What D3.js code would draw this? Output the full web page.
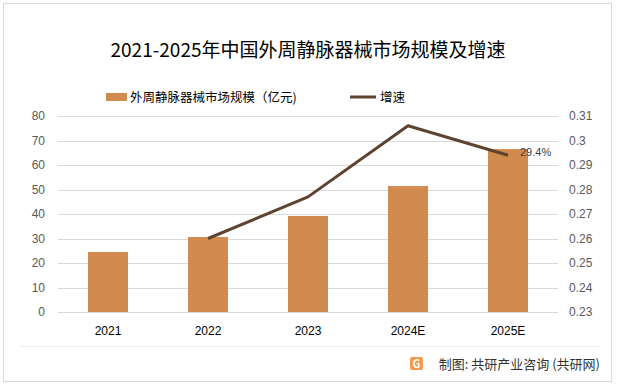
<html>
<style>
  body { margin: 0; background: #fff; }
  text { font-family: "Noto Sans CJK SC", "Noto Sans", sans-serif; }
</style>
<body>
<svg id="chart"></svg>
</body>
</html>
<script src="https://d3js.org/d3.v7.min.js"></script>
<script>
var years = ["2021", "2022", "2023", "2024E", "2025E"];
var marketSize = [24.5, 30.6, 39.2, 51.4, 66.5];
var growth = [null, 0.260, 0.277, 0.306, 0.294];
var leftTicks = [0, 10, 20, 30, 40, 50, 60, 70, 80];
var rightTicks = [0.23, 0.24, 0.25, 0.26, 0.27, 0.28, 0.29, 0.3, 0.31];

var W = 617, H = 387;
var svg = d3.select("#chart").attr("width", W).attr("height", H);

// outer frame
svg.append("rect").attr("x", 3.5).attr("y", 3.5).attr("width", 608).attr("height", 378)
  .attr("fill", "#fff").attr("stroke", "#d9d9d9");

var x = d3.scaleBand().domain(years).range([58, 558]).paddingInner(0.6).paddingOuter(0.3);
var yL = d3.scaleLinear().domain([0, 80]).range([312, 116]);
var yR = d3.scaleLinear().domain([0.23, 0.31]).range([312, 116]);

// grid
svg.append("g").selectAll("line").data(leftTicks).enter().append("line")
  .attr("x1", 58).attr("x2", 558)
  .attr("y1", function(d) { return Math.round(yL(d)) + 0.5; })
  .attr("y2", function(d) { return Math.round(yL(d)) + 0.5; })
  .attr("stroke", "#d9d9d9").attr("stroke-width", 1);

// left axis
var gl = svg.append("g").attr("transform", "translate(58,0)")
  .call(d3.axisLeft(yL).tickValues(leftTicks).tickSize(0).tickPadding(13));
gl.select(".domain").remove();
gl.selectAll("text").attr("fill", "#595959").style("font-size", "12px")
  .style("font-family", "'Liberation Sans', sans-serif");

// right axis
var gr = svg.append("g").attr("transform", "translate(558,0)")
  .call(d3.axisRight(yR).tickValues(rightTicks).tickSize(0).tickPadding(11)
    .tickFormat(function(d) { return String(+d.toFixed(2)); }));
gr.select(".domain").remove();
gr.selectAll("text").attr("fill", "#595959").style("font-size", "12px")
  .style("font-family", "'Liberation Sans', sans-serif");

// x labels
svg.append("g").selectAll("text").data(years).enter().append("text")
  .attr("x", function(d) { return x(d) + x.bandwidth() / 2; })
  .attr("y", 335).attr("text-anchor", "middle")
  .style("font-size", "12px").style("font-family", "'Liberation Sans', sans-serif")
  .attr("fill", "#000").text(function(d) { return d; });

// bars
svg.append("g").selectAll("rect").data(marketSize).enter().append("rect")
  .attr("x", function(d, i) { return x(years[i]); })
  .attr("y", function(d) { return yL(d); })
  .attr("width", x.bandwidth())
  .attr("height", function(d) { return yL(0) - yL(d); })
  .attr("fill", "#d18b4f");

// growth line
var pts = growth.map(function(g, i) { return { year: years[i], g: g }; })
  .filter(function(d) { return d.g !== null; });
var line = d3.line()
  .x(function(d) { return x(d.year) + x.bandwidth() / 2; })
  .y(function(d) { return yR(d.g); });
svg.append("path").datum(pts).attr("d", line)
  .attr("fill", "none").attr("stroke", "#5e4330").attr("stroke-width", 3)
  .attr("stroke-linejoin", "round");

var last = pts[pts.length - 1];
svg.append("text")
  .attr("x", x(last.year) + x.bandwidth() / 2 + 12).attr("y", yR(last.g) + 1)
  .style("font-size", "11px").style("font-family", "'Liberation Sans', sans-serif")
  .attr("fill", "#404040").text((last.g * 100).toFixed(1) + "%");

// title
svg.append("text").attr("x", 308).attr("y", 57).attr("text-anchor", "middle")
  .style("font-size", "19px").attr("fill", "#000")
  .text("2021-2025年中国外周静脉器械市场规模及增速");

// legend
svg.append("rect").attr("x", 106).attr("y", 93).attr("width", 21).attr("height", 8).attr("fill", "#d18b4f");
svg.append("text").attr("x", 130).attr("y", 102).style("font-size", "12.5px").attr("fill", "#000")
  .text("外周静脉器械市场规模（亿元)");
svg.append("line").attr("x1", 350).attr("x2", 376).attr("y1", 97).attr("y2", 97)
  .attr("stroke", "#5e4330").attr("stroke-width", 3);
svg.append("text").attr("x", 380).attr("y", 102).style("font-size", "12.5px").attr("fill", "#000")
  .text("增速");

// source footer
svg.append("line").attr("x1", 20).attr("x2", 600).attr("y1", 346.5).attr("y2", 346.5)
  .attr("stroke", "#eeeeee");
var icon = svg.append("g").attr("transform", "translate(410,357)");
icon.append("rect").attr("width", 13).attr("height", 13).attr("rx", 2).attr("fill", "#f39a4c");
icon.append("text").attr("x", 6.5).attr("y", 11).attr("text-anchor", "middle")
  .style("font-size", "11px").style("font-weight", "bold").attr("fill", "#fff").text("G");
svg.append("text").attr("x", 600).attr("y", 369).attr("text-anchor", "end")
  .style("font-size", "13px").attr("fill", "#333")
  .text("制图: 共研产业咨询 (共研网)");
</script>
